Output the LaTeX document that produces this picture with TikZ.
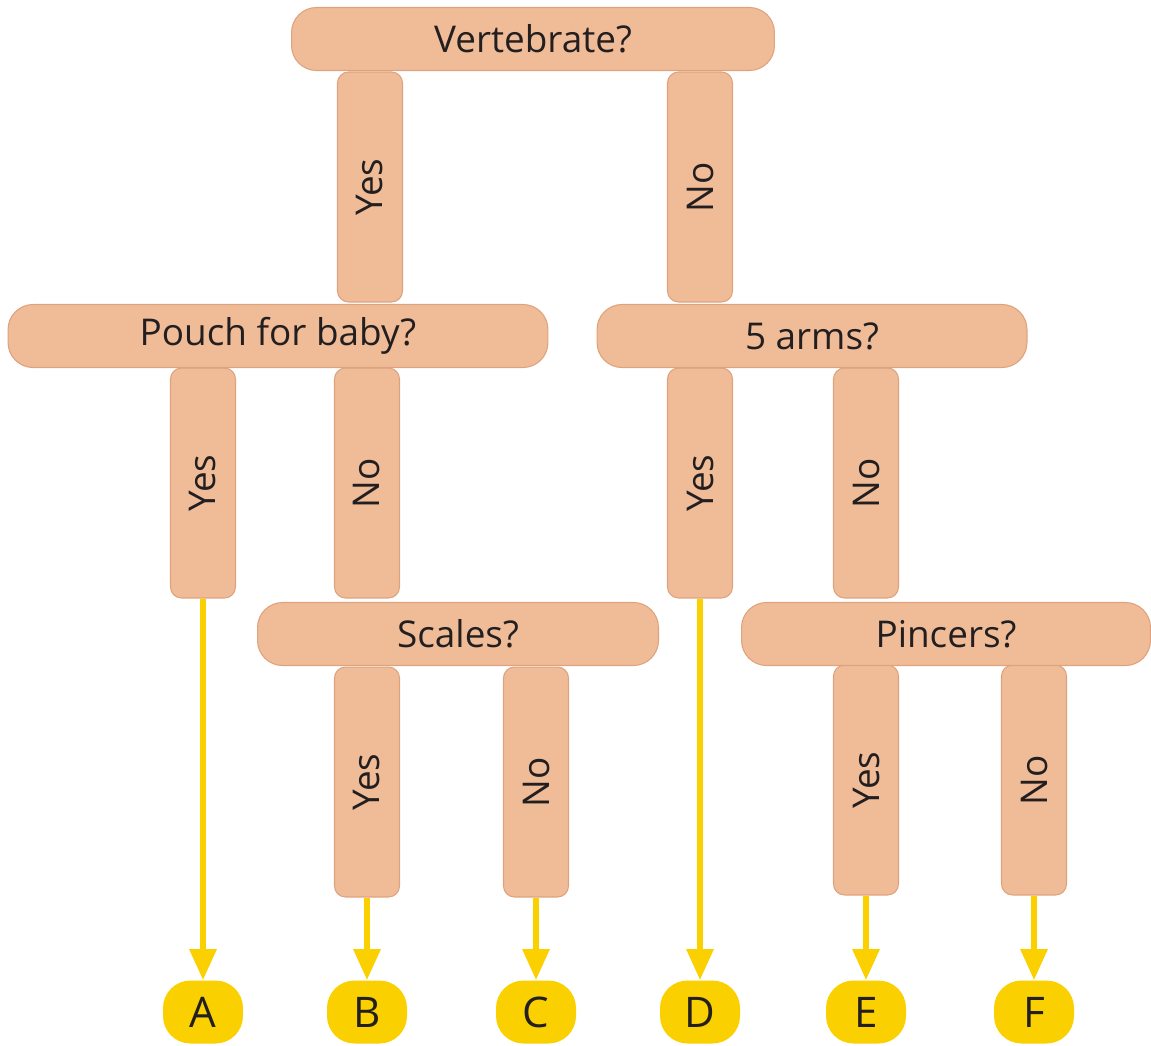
\documentclass[tikz,border=0pt]{standalone}
\usepackage{fontspec}
\setmainfont{Open Sans}
\usetikzlibrary{arrows.meta}
\definecolor{wood}{RGB}{240,188,152}
\definecolor{woodedge}{RGB}{222,162,124}
\definecolor{signyellow}{RGB}{250,208,0}
\definecolor{ink}{RGB}{35,31,32}

\begin{document}
\begin{tikzpicture}[x=0.02cm, y=-0.02cm]
\tikzstyle{bar}=[draw=woodedge, fill=wood, line width=0.6pt, rounded corners=0.5cm, minimum height=1.26cm, inner sep=0pt, text=ink, font=\fontsize{21}{25}\selectfont]
\tikzstyle{post}=[draw=woodedge, fill=wood, line width=0.6pt, rounded corners=0.22cm, minimum width=4.6cm, minimum height=1.3cm, inner sep=0pt, rotate=90, text=ink, font=\fontsize{21}{25}\selectfont]
\tikzstyle{leaf}=[fill=signyellow, rounded corners=0.55cm, minimum width=1.6cm, minimum height=1.26cm, inner sep=0pt, text=ink, font=\fontsize{24}{28}\selectfont]
\tikzstyle{arrow}=[draw=signyellow, line width=3.4pt, -{Triangle[length=0.62cm, width=0.52cm]}]
\useasboundingbox (0,0) rectangle (1151,1045);

% posts first, bars on top
\node[post] (vy) at (370,187) {Yes};
\node[post] (vn) at (700,187) {No};
\node[post] (py) at (203,483) {Yes};
\node[post] (pn) at (367,483) {No};
\node[post] (ay) at (700,483) {Yes};
\node[post] (an) at (866,483) {No};
\node[post] (sy) at (367,782) {Yes};
\node[post] (sn) at (536,782) {No};
\node[post] (iy) at (866,780) {Yes};
\node[post] (in) at (1034,780) {No};

\node[bar, minimum width=9.66cm] (vert) at (533,39) {Vertebrate?};
\node[bar, minimum width=10.8cm] (pouch) at (278,336) {Pouch for baby?};
\node[bar, minimum width=8.6cm] (arms) at (812,336) {5 arms?};
\node[bar, minimum width=8.02cm] (scales) at (458,634) {Scales?};
\node[bar, minimum width=8.18cm] (pincers) at (946,634) {Pincers?};

\node[leaf] (A) at (203,1012) {A};
\node[leaf] (B) at (367,1012) {B};
\node[leaf] (C) at (536,1012) {C};
\node[leaf] (D) at (700,1012) {D};
\node[leaf] (E) at (866,1012) {E};
\node[leaf] (F) at (1034,1012) {F};

\path
(py) edge[arrow] (A)
(sy) edge[arrow] (B)
(sn) edge[arrow] (C)
(ay) edge[arrow] (D)
(iy) edge[arrow] (E)
(in) edge[arrow] (F);

\end{tikzpicture}
\end{document}
